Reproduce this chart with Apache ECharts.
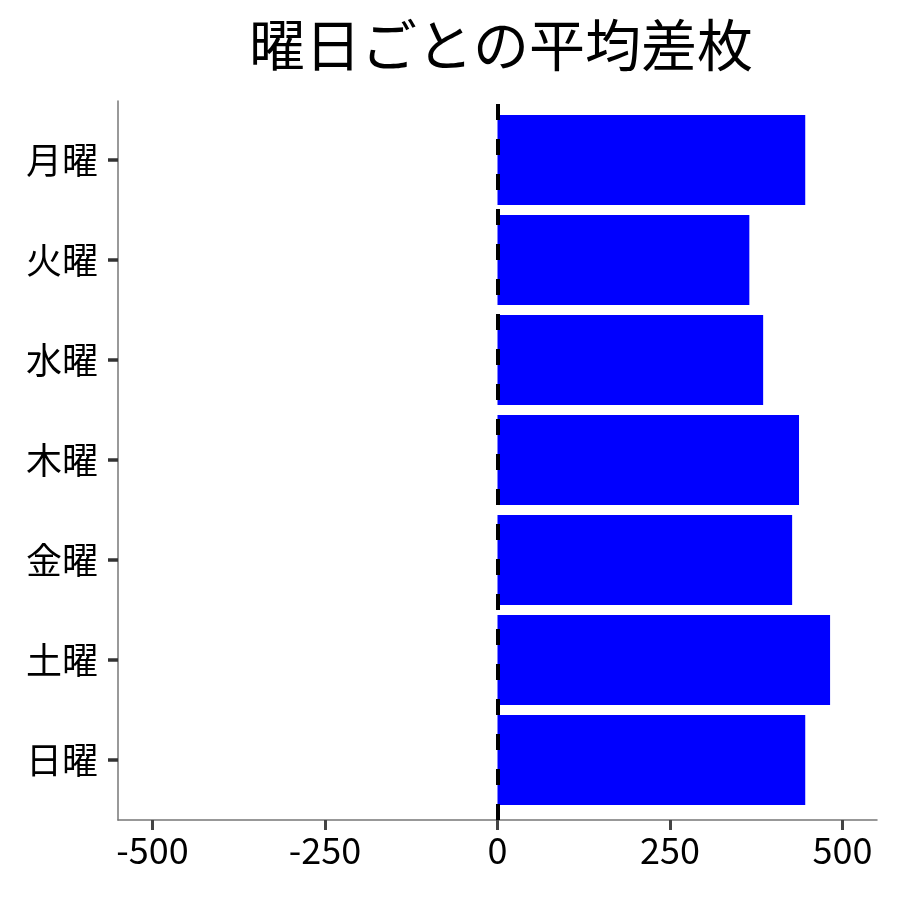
<!DOCTYPE html>
<html><head><meta charset="utf-8">
<script src="https://cdn.jsdelivr.net/npm/echarts@6/dist/echarts.min.js"></script>
<style>html,body{margin:0;padding:0;background:#fff}#c{width:900px;height:900px}</style>
</head><body><div id="c"></div>
<script>
const titleText = '曜日ごとの平均差枚';
const categories = ['月曜','火曜','水曜','木曜','金曜','土曜','日曜'];
const values = [446, 365, 385, 437, 427, 482, 446];
const xTicks = [-500, -250, 0, 250, 500];
const refLine = 0;

const font = '"Noto Sans CJK JP", "Noto Sans", sans-serif';
const chart = echarts.init(document.getElementById('c'));
chart.setOption({
  animation: false,
  title: {text: titleText, left: 496, textAlign: 'center', top: 12,
    textStyle: {fontFamily: font, fontSize: 56, fontWeight: 'normal', color: '#000'}},
  grid: [
    {left: 118, right: 23, top: 101, bottom: 80},
    {left: 118, right: 23, top: 110, bottom: 90}
  ],
  xAxis: [
    {type: 'value', gridIndex: 0, min: -550, max: 550,
      axisLine: {show: true, onZero: false, lineStyle: {color: '#777', width: 1.5}},
      axisTick: {show: true, length: 10, lineStyle: {color: '#444', width: 3}, customValues: xTicks},
      axisLabel: {customValues: xTicks, fontFamily: font, fontSize: 36, color: '#000', margin: 12},
      splitLine: {show: false}},
    {type: 'value', gridIndex: 1, min: -550, max: 550, show: false}
  ],
  yAxis: [
    {type: 'value', gridIndex: 0, min: 0, max: 1,
      axisLine: {show: true, onZero: false, lineStyle: {color: '#777', width: 1.5}},
      axisTick: {show: false}, axisLabel: {show: false}, splitLine: {show: false}},
    {type: 'category', gridIndex: 1, data: categories, inverse: true,
      axisLine: {show: false, onZero: false},
      axisTick: {show: true, alignWithLabel: true, length: 10, lineStyle: {color: '#333', width: 3.5}},
      axisLabel: {fontFamily: font, fontSize: 36, color: '#000', margin: 20}}
  ],
  series: [
    {type: 'bar', xAxisIndex: 1, yAxisIndex: 1, data: values, barCategoryGap: '10%',
      itemStyle: {color: '#0000ff'}, z: 3},
    {type: 'line', xAxisIndex: 0, yAxisIndex: 0, data: [], z: 2,
      markLine: {silent: true, symbol: 'none', label: {show: false},
        lineStyle: {color: '#000', width: 4, type: [16, 19], dashOffset: 0},
        data: [{xAxis: refLine}]}}
  ]
});
</script></body></html>
